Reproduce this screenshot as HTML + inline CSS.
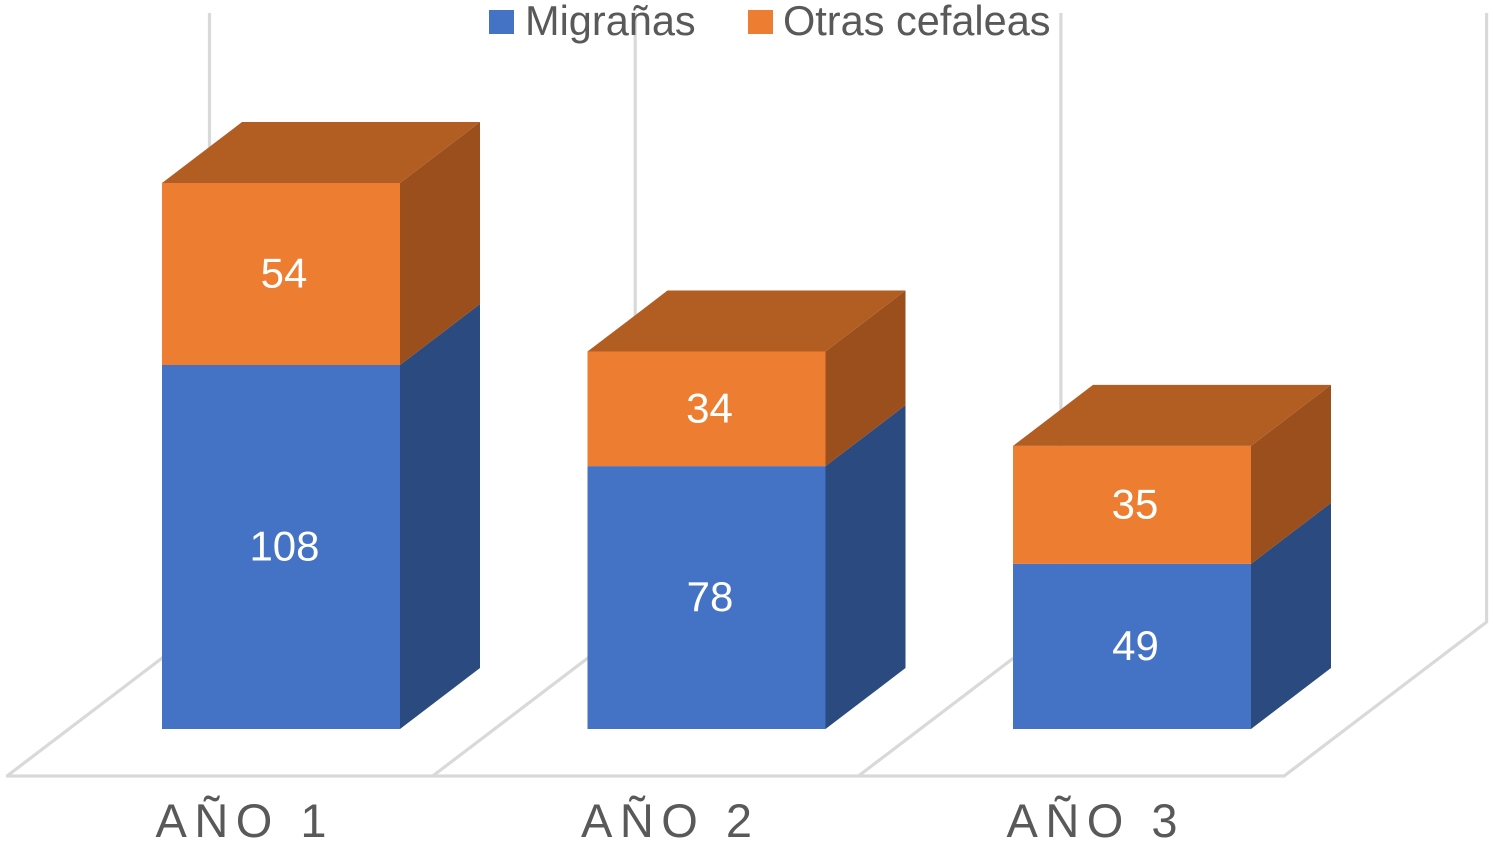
<!DOCTYPE html>
<html lang="es">
<head>
<meta charset="utf-8">
<title>Migrañas y otras cefaleas por año</title>
<style>
html,body{margin:0;padding:0;background:#fff;width:1493px;height:848px;overflow:hidden}
svg{display:block;font-family:"Liberation Sans",sans-serif}
</style>
</head>
<body>
<svg id="chart" xmlns="http://www.w3.org/2000/svg" width="1493" height="848" viewBox="0 0 1493 848">
  <g id="grid"></g>
  <g id="bars"></g>
  <g id="labels"></g>
  <g id="xaxis"></g>
  <g>
    <rect x="489" y="10" width="25" height="24" fill="#4472C4"/>
    <text x="525" y="35" font-size="41.5" fill="#595959">Migrañas</text>
    <rect x="748" y="10" width="25" height="24" fill="#ED7D31"/>
    <text x="783" y="35" font-size="41.5" fill="#595959">Otras cefaleas</text>
  </g>
</svg>
<script>
const categories = ["AÑO 1", "AÑO 2", "AÑO 3"];
const migranas = [108, 78, 49];
const otrasCefaleas = [54, 34, 35];

const NS = "http://www.w3.org/2000/svg";
const BASE_Y = 729, UNIT = 3.37, BAR_W = 238, DX = 80, DY = 61, BAND = 425.5, FIRST_X = 162;
const FLOOR_Y = 776, WALL_Y = 622, WALL_TOP = 13, FLOOR_X0 = 7, FLOOR_STEP = 425.7, WALL_DX = 202.5;

function yScale(v) { return BASE_Y - v * UNIT; }
function xLeft(i) { return FIRST_X + i * BAND; }
function pts(list) { return list.map(function (p) { return p[0] + "," + p[1]; }).join(" "); }

const grid = document.getElementById("grid");
const bars = document.getElementById("bars");
const labels = document.getElementById("labels");
const xaxis = document.getElementById("xaxis");

function gridLine(x1, y1, x2, y2, name) {
  const l = document.createElementNS(NS, "line");
  l.setAttribute("x1", x1);
  l.setAttribute("y1", y1);
  l.setAttribute("x2", x2);
  l.setAttribute("y2", y2);
  l.setAttribute("stroke", "#d9d9d9");
  l.setAttribute("stroke-width", "3.2");
  
  
  grid.appendChild(l);
}

function face(points, fill, name) {
  const p = document.createElementNS(NS, "polygon");
  p.setAttribute("points", pts(points));
  p.setAttribute("fill", fill);
  
  
  bars.appendChild(p);
}

function valueLabel(x, y, v, name) {
  const t = document.createElementNS(NS, "text");
  t.setAttribute("x", x);
  t.setAttribute("y", y);
  t.setAttribute("text-anchor", "middle");
  t.setAttribute("font-size", "42");
  t.setAttribute("fill", "#ffffff");
  
  
  t.textContent = v;
  labels.appendChild(t);
}

/* floor and wall lines */
for (let i = 0; i <= categories.length; i++) {
  const fx = FLOOR_X0 + i * FLOOR_STEP;
  gridLine(fx, FLOOR_Y, fx + WALL_DX, WALL_Y, "floor-line-" + (i + 1));
  gridLine(fx + WALL_DX, WALL_Y + 1, fx + WALL_DX, WALL_TOP, "wall-line-" + (i + 1));
}
gridLine(FLOOR_X0 - 1, FLOOR_Y, FLOOR_X0 + categories.length * FLOOR_STEP + 1, FLOOR_Y, "floor-front-line");

/* bars */
categories.forEach(function (c, i) {
  const x0 = xLeft(i), x1 = x0 + BAR_W;
  const y0 = yScale(0);
  const y1 = yScale(migranas[i]);
  const y2 = yScale(migranas[i] + otrasCefaleas[i]);
  const key = "anio-" + (i + 1);

  face([[x1, y0], [x1 + DX, y0 - DY], [x1 + DX, y1 - DY], [x1, y1]], "#2A4A80", "bar-migranas-side-" + key);
  face([[x0, y0], [x1, y0], [x1, y1], [x0, y1]], "#4472C4", "bar-migranas-" + key);
  face([[x1, y1], [x1 + DX, y1 - DY], [x1 + DX, y2 - DY], [x1, y2]], "#9A4F1D", "bar-otras-side-" + key);
  face([[x0, y1], [x1, y1], [x1, y2], [x0, y2]], "#ED7D31", "bar-otras-" + key);
  face([[x0, y2], [x1, y2], [x1 + DX, y2 - DY], [x0 + DX, y2 - DY]], "#B25E23", "bar-otras-top-" + key);

  valueLabel(x0 + BAR_W / 2 + 3.5, (y0 + y1) / 2 + 13.5, migranas[i], "value-migranas-" + key);
  valueLabel(x0 + BAR_W / 2 + 3, (y1 + y2) / 2 + 13.5, otrasCefaleas[i], "value-otras-" + key);

  const t = document.createElementNS(NS, "text");
  t.setAttribute("x", x0 - 6.5);
  t.setAttribute("y", 837);
  t.setAttribute("font-size", "47");
  t.setAttribute("letter-spacing", "7.5");
  t.setAttribute("fill", "#595959");
  
  
  t.textContent = c;
  xaxis.appendChild(t);
});
</script>
</body>
</html>
